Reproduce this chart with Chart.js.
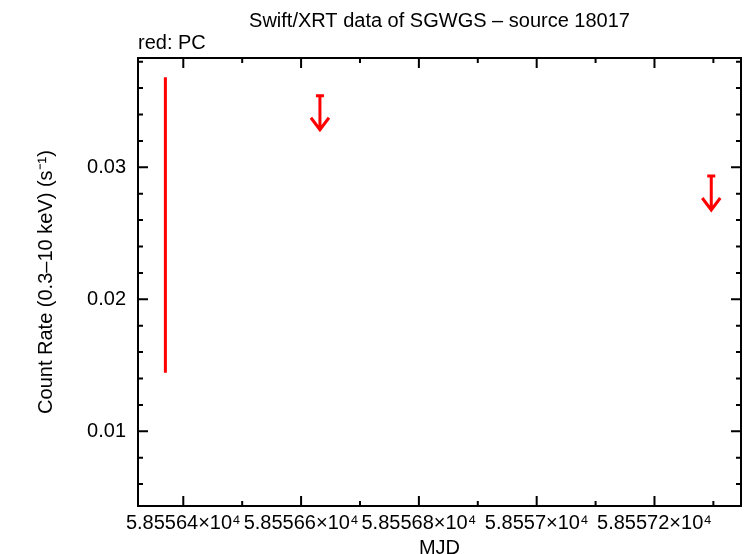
<!DOCTYPE html>
<html>
<head>
<meta charset="utf-8">
<script src="https://cdn.jsdelivr.net/npm/chart.js@4.4.0/dist/chart.umd.min.js"></script>
<style>
  html, body { margin: 0; padding: 0; background: #fff; }
</style>
</head>
<body>
<canvas id="myChart" width="744" height="554"></canvas>
<script>
// PC mode point (only the error bar is drawn)
const pcMjd = [58556.3696]
const pcRate = [0.02563]
const pcErr = [0.01119]
// upper limits
const ulMjd = [58556.632, 58557.2964]
const ulRate = [0.03542, 0.02934]

const xMajor = [58556.4, 58556.6, 58556.8, 58557.0, 58557.2]
const xMinor = [58556.5, 58556.7, 58556.9, 58557.1, 58557.3]
const xLabels = ['5.85564×10⁴', '5.85566×10⁴', '5.85568×10⁴', '5.8557×10⁴', '5.85572×10⁴']
const yMajor = [0.01, 0.02, 0.03]
const yMinor = [0.006, 0.008, 0.012, 0.014, 0.016, 0.018, 0.022, 0.024, 0.026, 0.028, 0.032, 0.034, 0.036, 0.038]

Chart.defaults.font.family = "'Liberation Sans', Arial, sans-serif"
Chart.defaults.font.size = 20
Chart.defaults.color = '#000'

// frame, inward ticks, error bar and upper limit arrows
const drawMarks = {
  id: 'drawMarks',
  afterDatasetsDraw(chart) {
    const { ctx, chartArea: a, scales: { x, y } } = chart
    ctx.save()
    ctx.strokeStyle = 'red'
    ctx.lineWidth = 3
    for (let i = 0; i < pcMjd.length; i++) {
      const px = x.getPixelForValue(pcMjd[i])
      ctx.beginPath()
      ctx.moveTo(px, y.getPixelForValue(pcRate[i] + pcErr[i]))
      ctx.lineTo(px, y.getPixelForValue(pcRate[i] - pcErr[i]))
      ctx.stroke()
    }
    for (let i = 0; i < ulMjd.length; i++) {
      const px = x.getPixelForValue(ulMjd[i])
      const py = y.getPixelForValue(ulRate[i])
      ctx.beginPath()
      ctx.moveTo(px - 4, py); ctx.lineTo(px + 4, py)
      ctx.moveTo(px, py); ctx.lineTo(px, py + 34)
      ctx.moveTo(px - 9, py + 22); ctx.lineTo(px, py + 34); ctx.lineTo(px + 9, py + 22)
      ctx.stroke()
    }

    ctx.strokeStyle = '#000'
    ctx.lineWidth = 2
    ctx.strokeRect(a.left, a.top, a.right - a.left, a.bottom - a.top)
    ctx.beginPath()
    const xt = (v, len) => {
      const px = x.getPixelForValue(v)
      ctx.moveTo(px, a.bottom); ctx.lineTo(px, a.bottom - len)
      ctx.moveTo(px, a.top); ctx.lineTo(px, a.top + len)
    }
    const yt = (v, len) => {
      const py = y.getPixelForValue(v)
      ctx.moveTo(a.left, py); ctx.lineTo(a.left + len, py)
      ctx.moveTo(a.right, py); ctx.lineTo(a.right - len, py)
    }
    xMajor.forEach(v => xt(v, 10))
    xMinor.forEach(v => xt(v, 5))
    yMajor.forEach(v => yt(v, 10))
    yMinor.forEach(v => yt(v, 5))
    ctx.stroke()
    ctx.restore()
  }
}

const data = {
  datasets: [{
    label: 'PC',
    data: pcMjd.map((m, i) => ({ x: m, y: pcRate[i] })),
    pointRadius: 0
  }, {
    label: 'upper limits',
    data: ulMjd.map((m, i) => ({ x: m, y: ulRate[i] })),
    pointRadius: 0
  }]
}

const config = {
  type: 'scatter',
  data,
  options: {
    responsive: false,
    animation: false,
    devicePixelRatio: 1,
    layout: { padding: { left: 0, right: 3, top: 0, bottom: 0 } },
    plugins: {
      legend: { display: false },
      tooltip: { enabled: false },
      title: {
        display: true,
        text: 'Swift/XRT data of SGWGS – source 18017',
        fullSize: false,
        font: { size: 20, weight: 'normal', lineHeight: 1 },
        padding: { top: 11, bottom: 2 }
      },
      subtitle: {
        display: true,
        text: 'red: PC',
        align: 'start',
        fullSize: false,
        font: { size: 20, weight: 'normal', lineHeight: 1 },
        padding: { top: 0, bottom: 5 }
      }
    },
    scales: {
      x: {
        type: 'linear',
        min: 58556.3231,
        max: 58557.3469,
        afterBuildTicks: s => { s.ticks = xMajor.map(v => ({ value: v })) },
        afterFit: s => { s.height = 48 },
        ticks: {
          callback: (v, i) => xLabels[i],
          maxRotation: 0,
          autoSkip: false,
          padding: -3
        },
        grid: { display: false },
        border: { display: false },
        title: {
          display: true,
          text: 'MJD',
          font: { size: 20, lineHeight: 1 },
          padding: { top: 0, bottom: -4 }
        }
      },
      y: {
        min: 0.00434,
        max: 0.03828,
        afterBuildTicks: s => { s.ticks = yMajor.map(v => ({ value: v })) },
        afterFit: s => { s.width = 138 },
        ticks: {
          callback: v => v.toFixed(2),
          padding: 4
        },
        grid: { display: false },
        border: { display: false },
        title: {
          display: true,
          text: 'Count Rate (0.3–10 keV) (s⁻¹)',
          font: { size: 20, lineHeight: 1 },
          padding: { top: 36, bottom: 0 }
        }
      }
    }
  },
  plugins: [drawMarks]
}

const myChart = new Chart(document.getElementById('myChart'), config)
</script>
</body>
</html>
